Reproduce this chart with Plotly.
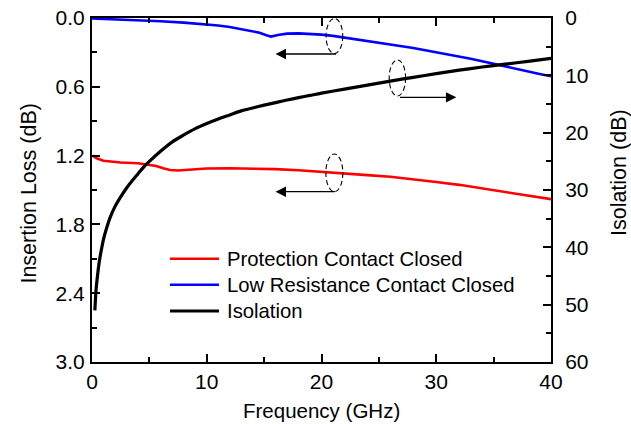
import plotly.graph_objects as go

# Insertion loss, protection contact closed (dB vs GHz)
freq_pc = [0.05, 0.4, 1, 2.5, 4, 5, 5.6, 6.2, 6.8, 7.5, 8.25, 9, 10, 12, 14, 16,
           18, 20, 22, 24, 26, 28, 30, 32, 34, 36, 38, 40]
il_pc = [1.20, 1.224, 1.245, 1.26, 1.267, 1.28, 1.29, 1.31, 1.325, 1.33, 1.325,
         1.318, 1.312, 1.31, 1.311, 1.318, 1.328, 1.34, 1.355, 1.37, 1.385, 1.405,
         1.43, 1.455, 1.485, 1.515, 1.545, 1.58]

# Insertion loss, low resistance contact closed
freq_lr = [0, 2, 4, 6, 8, 10, 11, 12, 13, 14, 14.6, 15.2, 15.6, 16.2, 17, 18, 19,
           20, 21, 22, 23, 24, 25, 26, 27, 28, 29, 30, 31, 32, 33, 34, 35, 36, 37,
           38, 39, 40]
il_lr = [0.005, 0.012, 0.02, 0.028, 0.04, 0.055, 0.065, 0.078, 0.095, 0.115, 0.128,
         0.15, 0.162, 0.148, 0.136, 0.134, 0.138, 0.145, 0.156, 0.17, 0.185, 0.2,
         0.215, 0.23, 0.246, 0.262, 0.28, 0.298, 0.316, 0.335, 0.355, 0.377, 0.4,
         0.422, 0.444, 0.467, 0.488, 0.508]

# Isolation (dB vs GHz)
freq_iso = [0.25, 0.35, 0.5, 0.65, 0.8, 1.0, 1.25, 1.6, 2.0, 2.5, 3.0, 3.5, 4.0,
            4.5, 5, 6, 7, 8, 9, 10, 11, 12, 13, 14, 15, 16, 17, 18, 19, 20, 22, 24,
            26, 28, 30, 32, 34, 36, 38, 40]
iso = [51.0, 47.5, 44.6, 42.3, 40.6, 38.6, 36.8, 34.7, 32.9, 31.2, 29.7, 28.4, 27.2,
       26.0, 25.0, 23.2, 21.6, 20.4, 19.3, 18.4, 17.6, 16.9, 16.2, 15.7, 15.2, 14.75,
       14.3, 13.9, 13.5, 13.1, 12.4, 11.7, 11.0, 10.35, 9.7, 9.1, 8.55, 8.05, 7.55, 7.05]

x_ticks = [0, 10, 20, 30, 40]
il_ticks = [0.0, 0.6, 1.2, 1.8, 2.4, 3.0]
iso_ticks = [0, 10, 20, 30, 40, 50, 60]

series_names = ["Protection Contact Closed", "Low Resistance Contact Closed", "Isolation"]
series_colors = ["#ff0000", "#0000ff", "#000000"]
series_widths = [2.6, 2.6, 3.2]

FONT = "Liberation Sans, Arial, sans-serif"

fig = go.Figure()
fig.add_trace(go.Scatter(x=freq_pc, y=il_pc, mode="lines", name=series_names[0],
                         line=dict(color=series_colors[0], width=series_widths[0])))
fig.add_trace(go.Scatter(x=freq_lr, y=il_lr, mode="lines", name=series_names[1],
                         line=dict(color=series_colors[1], width=series_widths[1])))
fig.add_trace(go.Scatter(x=freq_iso, y=iso, mode="lines", name=series_names[2], yaxis="y2",
                         line=dict(color=series_colors[2], width=series_widths[2],
                                   shape="spline", smoothing=0.8)))

axis_common = dict(showgrid=False, zeroline=False, showline=True, linecolor="black",
                   linewidth=2, ticks="inside", ticklen=8, tickwidth=1.5, tickcolor="black",
                   tickfont=dict(family=FONT, size=21, color="black"), automargin=False)
minor_common = dict(ticks="inside", ticklen=5, tickcolor="black", tickwidth=1.5)

fig.update_layout(
    width=631, height=424,
    margin=dict(l=92, r=80, t=18, b=62),
    paper_bgcolor="white", plot_bgcolor="white",
    font=dict(family=FONT, size=20, color="black"),
    showlegend=False,
    xaxis=dict(range=[0, 40], tickvals=x_ticks, mirror="ticks", ticklabelstandoff=0,
               minor=dict(dtick=5, **minor_common), **axis_common),
    yaxis=dict(range=[3.0, 0.0], tickvals=il_ticks, tickformat=".1f", ticklabelstandoff=1,
               minor=dict(dtick=0.3, **minor_common), **axis_common),
    yaxis2=dict(range=[60, 0], tickvals=iso_ticks, overlaying="y", side="right",
                ticklabelstandoff=8, minor=dict(dtick=5, **minor_common), **axis_common),
)

# Axis titles
fig.add_annotation(text="Frequency (GHz)", xref="paper", yref="paper", x=0.5, y=-0.14,
                   xanchor="center", yanchor="middle", showarrow=False, borderpad=0,
                   font=dict(family=FONT, size=20.5))
fig.add_annotation(text="Insertion Loss (dB)", xref="paper", yref="paper", x=-0.137, y=0.49,
                   xanchor="center", yanchor="middle", textangle=-90, showarrow=False,
                   borderpad=0, font=dict(family=FONT, size=21.5))
fig.add_annotation(text="Isolation (dB)", xref="paper", yref="paper", x=1.148, y=0.552,
                   xanchor="center", yanchor="middle", textangle=-90, showarrow=False,
                   borderpad=0, font=dict(family=FONT, size=21.5))

# Legend drawn inside the plot area: sample line + label per series
legend_rows = [0.3003, 0.2247, 0.1483]
for name, color, width, ly in zip(series_names, series_colors, series_widths, legend_rows):
    fig.add_shape(type="line", xref="paper", yref="paper", x0=0.1699, x1=0.2767, y0=ly, y1=ly,
                  line=dict(color=color, width=width))
    fig.add_annotation(text=name, xref="paper", yref="paper", x=0.2908, y=ly,
                       xanchor="left", yanchor="middle", showarrow=False,
                       font=dict(family=FONT, size=20.3))

# Dashed ellipses marking each curve, with arrows pointing to its axis
ellipses = [(20.4, 21.85, 0.005, 0.31), (25.9, 27.33, 0.366, 0.68), (20.38, 21.86, 1.186, 1.515)]
for x0, x1, y0, y1 in ellipses:
    fig.add_shape(type="circle", xref="x", yref="y", x0=x0, x1=x1, y0=y0, y1=y1,
                  line=dict(color="black", width=1.1, dash="5px,3px"))

arrows = [(21.4, 16.0, 0.314), (26.7, 31.75, 0.692), (21.3, 16.0, 1.515)]
for tail, tip, yy in arrows:
    fig.add_annotation(x=tip, y=yy, ax=tail, ay=yy, xref="x", yref="y", axref="x", ayref="y",
                       text="", showarrow=True, arrowhead=2, arrowsize=1.6, arrowwidth=1.3,
                       arrowcolor="black", standoff=0, startstandoff=0)

fig.write_html("out.html")
